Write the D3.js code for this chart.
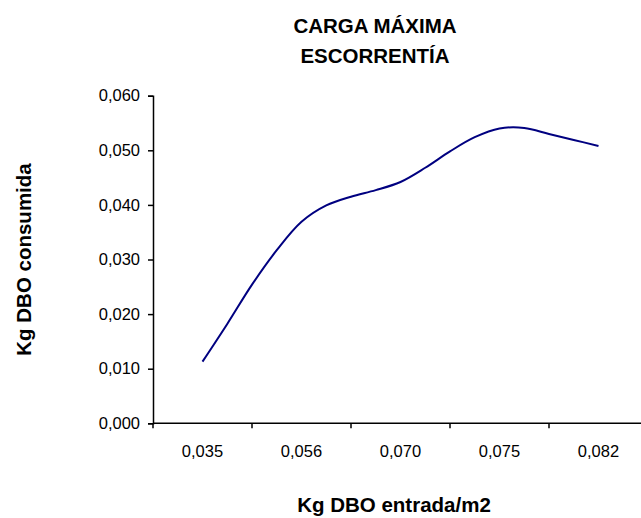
<!DOCTYPE html>
<html>
<head>
<meta charset="utf-8">
<script src="https://cdn.jsdelivr.net/npm/d3@7"></script>
<style>
  body { margin: 0; background: #fff; }
  svg { font-family: Arial, "Liberation Sans", sans-serif; }
</style>
</head>
<body>
<svg id="chart" width="641" height="518"></svg>
<script>
// category labels shown on the x axis
let xLabels = ['0,035', '0,056', '0,070', '0,075', '0,082'];
// curve readings, four steps per labelled category
let consumida = [0.0113, 0.0182, 0.0254, 0.0317, 0.0369, 0.0399, 0.0415, 0.0427, 0.0442,
                 0.0468, 0.0498, 0.0524, 0.0540, 0.0541, 0.0530, 0.0519, 0.0508];
let yTicks = [0, 0.01, 0.02, 0.03, 0.04, 0.05, 0.06];

let svg = d3.select('#chart');
let plotLeft = 153, plotRight = 648, plotTop = 95.7, plotBottom = 423.3;

let es = d3.formatLocale({ decimal: ',', thousands: '.', grouping: [3], currency: ['', ''] });
let fmt = es.format('.3f');

let x = d3.scaleBand().domain(xLabels).range([plotLeft, plotRight]).padding(0);
let xi = d3.scaleLinear().domain([0, consumida.length - 1])
    .range([x(xLabels[0]) + x.bandwidth() / 2, x(xLabels[xLabels.length - 1]) + x.bandwidth() / 2]);
let y = d3.scaleLinear().domain([0, 0.06]).range([plotBottom, plotTop]);

// y axis
let yAxis = svg.append('g')
    .attr('transform', `translate(${plotLeft},0)`)
    .call(d3.axisLeft(y).tickValues(yTicks).tickFormat(fmt).tickSize(5).tickPadding(8));
yAxis.select('.domain').attr('stroke', '#000').attr('stroke-width', 1.5);
yAxis.selectAll('.tick line').attr('stroke', '#000').attr('stroke-width', 1.5);
yAxis.selectAll('.tick text').attr('font-size', 16.5).attr('fill', '#000')
    .attr('font-family', 'Arial, "Liberation Sans", sans-serif');

// x axis: ticks on category boundaries, labels centred
let xAxis = svg.append('g');
xAxis.append('line')
    .attr('x1', plotLeft).attr('x2', plotRight).attr('y1', plotBottom).attr('y2', plotBottom)
    .attr('stroke', '#000').attr('stroke-width', 1.5);
xAxis.selectAll('line.tk').data(xLabels).join('line')
    .attr('class', 'tk')
    .attr('x1', (d) => x(d)).attr('x2', (d) => x(d))
    .attr('y1', plotBottom).attr('y2', plotBottom + 5)
    .attr('stroke', '#000').attr('stroke-width', 1.5);
xAxis.selectAll('text').data(xLabels).join('text')
    .attr('x', (d) => x(d) + x.bandwidth() / 2)
    .attr('y', 457)
    .attr('text-anchor', 'middle')
    .attr('font-size', 16.5)
    .text((d) => d);

// smoothed series line
let line = d3.line()
    .x((d, i) => xi(i))
    .y((d) => y(d))
    .curve(d3.curveCatmullRom.alpha(0.5));
svg.append('path')
    .datum(consumida)
    .attr('d', line)
    .attr('fill', 'none')
    .attr('stroke', '#000080')
    .attr('stroke-width', 2);

// titles
let title = svg.append('text')
    .attr('text-anchor', 'middle')
    .attr('font-size', 20.5)
    .attr('font-weight', 'bold');
title.append('tspan').attr('x', 375).attr('y', 33).text('CARGA MÁXIMA');
title.append('tspan').attr('x', 375).attr('y', 63).text('ESCORRENTÍA');

svg.append('text')
    .attr('x', 394).attr('y', 512)
    .attr('text-anchor', 'middle')
    .attr('font-size', 20.5)
    .attr('font-weight', 'bold')
    .text('Kg DBO entrada/m2');

svg.append('text')
    .attr('transform', `translate(31,${(plotTop + plotBottom) / 2}) rotate(-90)`)
    .attr('text-anchor', 'middle')
    .attr('font-size', 20.5)
    .attr('font-weight', 'bold')
    .text('Kg DBO consumida');
</script>
</body>
</html>
